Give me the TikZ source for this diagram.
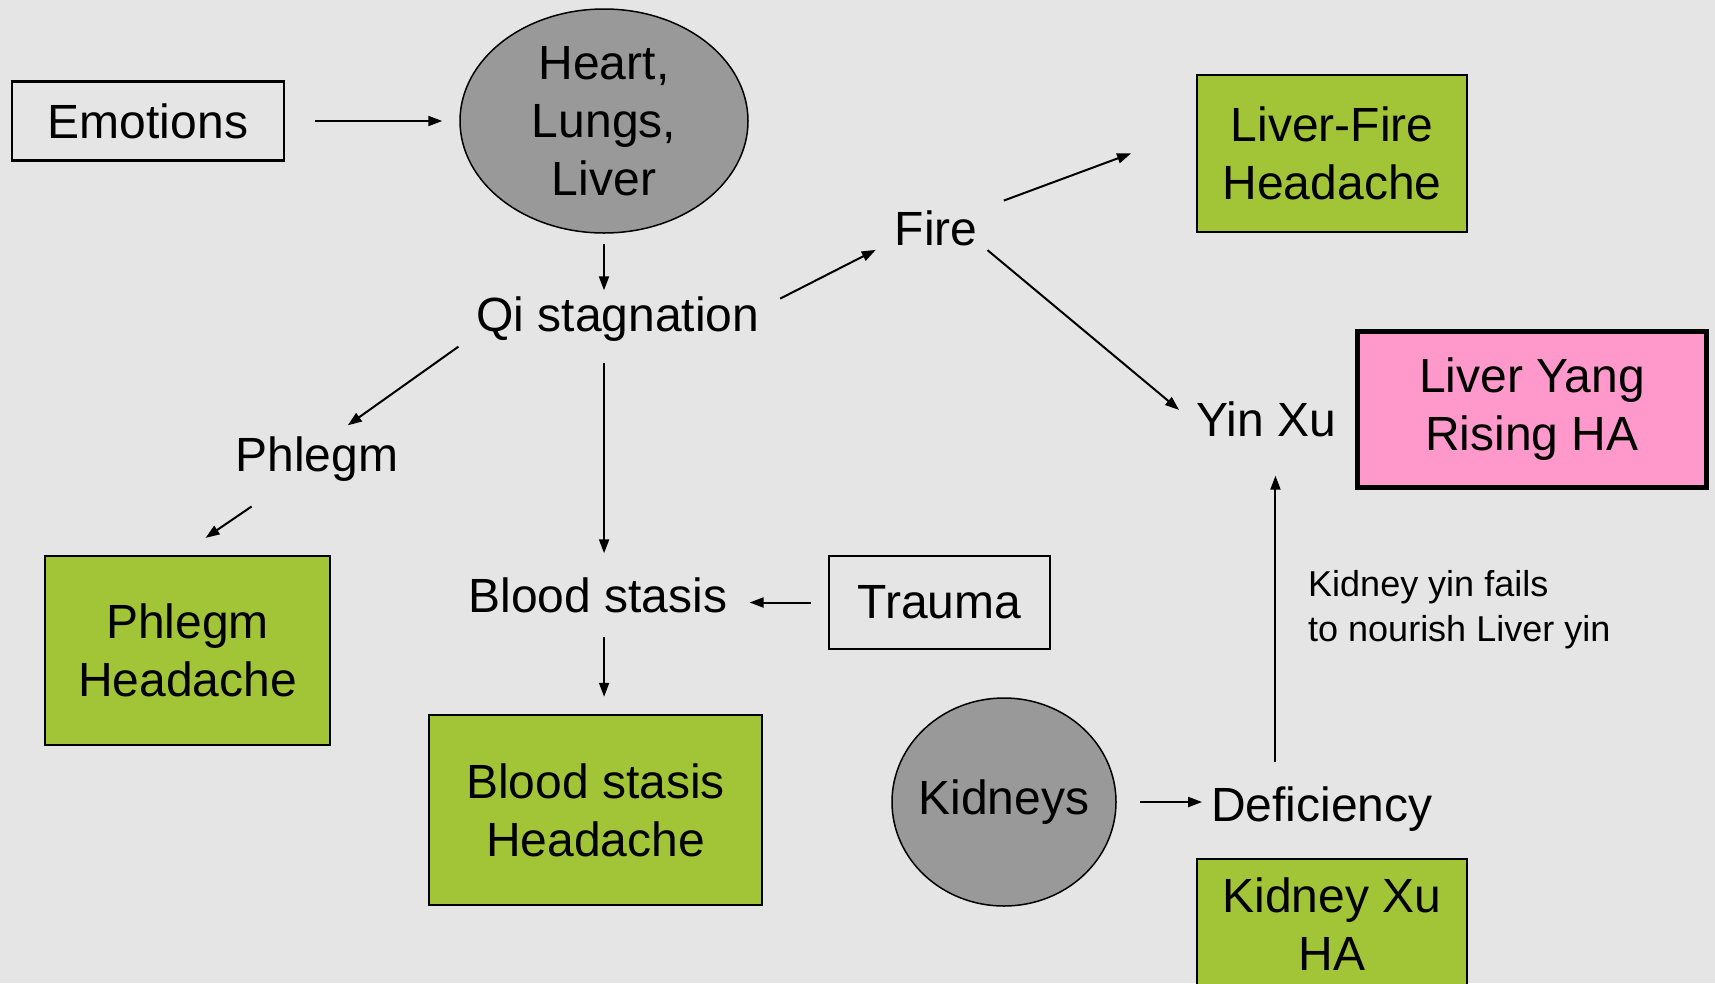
\documentclass[tikz,border=0pt]{standalone}
\usepackage{fontspec}
\setmainfont{Liberation Sans}
\usetikzlibrary{shapes.geometric,arrows.meta}
\definecolor{slidebg}{HTML}{E5E5E5}
\definecolor{hagreen}{HTML}{A2C437}
\definecolor{hapink}{HTML}{FF99CC}
\definecolor{organgray}{HTML}{999999}

\begin{document}
\begin{tikzpicture}[x=1pt,y=-1pt,
  txt/.style={inner sep=0pt,text height=35pt,text depth=10pt,
    font=\fontsize{48}{58}\selectfont},
  box/.style={draw,line width=2.5pt,align=center,inner sep=0pt,
    font=\fontsize{48}{58}\selectfont},
  ha/.style={box,fill=hagreen},
  organ/.style={ellipse,draw,line width=1.5pt,fill=organgray,inner sep=0pt,
    align=center,font=\fontsize{48}{58}\selectfont},
  link/.style={line width=2pt,-{Triangle[length=14pt,width=10pt]}}]
  \fill[slidebg] (0,0) rectangle (1715,983);
  \useasboundingbox (0,0) rectangle (1715,983);

  \node[box,minimum width=272pt,minimum height=79pt] (emo) at (148,121) {Emotions};
  \node[organ,minimum width=288pt,minimum height=224pt] (heart) at (604,121)
    {Heart,\\Lungs,\\Liver};
  \node[txt] (qi) at (618,319) {Qi stagnation};
  \node[txt] (fire) at (936,233) {Fire};
  \node[ha,minimum width=270pt,minimum height=157pt] (lfire) at (1332,153.5)
    {Liver-Fire\\Headache};
  \node[txt] (yinxu) at (1266,424) {Yin Xu};
  \node[ha,fill=hapink,line width=5pt,minimum width=349pt,minimum height=156pt]
    (lyang) at (1532,409.5) {Liver Yang\\Rising HA};
  \node[txt] (phlegm) at (317,459) {Phlegm};
  \node[ha,minimum width=285pt,minimum height=189pt] (phead) at (187.5,650.5)
    {Phlegm\\Headache};
  \node[txt] (blood) at (598,600) {Blood stasis};
  \node[box,minimum width=221pt,minimum height=93pt] (trauma) at (939.5,602.5) {Trauma};
  \node[ha,minimum width=333pt,minimum height=190pt] (bhead) at (595.5,810)
    {Blood stasis\\Headache};
  \node[organ,inner xsep=-8pt,minimum width=224pt,minimum height=208pt] (kidneys)
    at (1004,802) {Kidneys};
  \node[txt] (defic) at (1322,809) {Deficiency};
  \node[ha,minimum width=270pt,minimum height=130pt] (kxu) at (1332,924)
    {Kidney Xu\\HA};
  \node[anchor=west,inner sep=0pt,align=left,font=\fontsize{36}{45}\selectfont]
    (note) at (1308,610) {Kidney yin fails\\to nourish Liver yin};

  % arrows
  \draw[link,shorten <=30pt,shorten >=17pt] (emo.east) -- (heart.west);
  \draw[link,shorten <=10pt,shorten >=6pt] (heart.south) -- (heart.south |- qi.north);
  \draw[link,shorten <=23pt,shorten >=21pt] (qi.4) -- (fire.190);
  \draw[link,shorten <=28pt,shorten >=69pt] (fire.north east) -- (lfire.170);
  \draw[link,shorten <=13pt,shorten >=22pt] (fire.348) -- (yinxu.west);
  \draw[link,shorten <=24pt,shorten >=29pt] (defic.154) -- (defic.154 |- yinxu.south);
  \draw[link,shorten <=23pt,shorten >=9pt] (kidneys.east) -- (kidneys.east -| defic.west);
  \draw[link,shorten <=22pt,shorten >=19pt] (qi.186) -- (phlegm.56);
  \draw[link,shorten <=44pt,shorten >=30pt] (phlegm.218) -- (phead.94);
  \draw[link,shorten <=21pt,shorten >=24pt] (blood.75 |- qi.south) -- (blood.75);
  \draw[link,shorten <=17pt,shorten >=22pt] (trauma.west) -- (trauma.west -| blood.east);
  \draw[link,shorten <=14pt,shorten >=17pt] (blood.285) -- (blood.285 |- bhead.north);
\end{tikzpicture}
\end{document}
